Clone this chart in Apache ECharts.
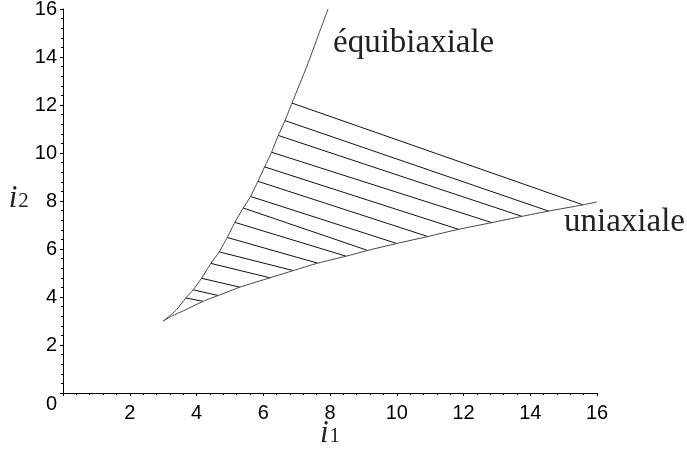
<!DOCTYPE html>
<html>
<head>
<meta charset="utf-8">
<script src="https://cdn.jsdelivr.net/npm/echarts@6/dist/echarts.min.js"></script>
<style>
  html, body { margin: 0; padding: 0; background: #fff; }
  #chart { width: 687px; height: 453px; }
</style>
</head>
<body>
<div id="chart"></div>
<script>
// equibiaxial boundary curve (i1, i2)
var equiX = [3.0, 3.15, 3.4, 3.68, 3.9, 4.15, 4.43, 4.68, 4.92, 5.15, 5.4, 5.62, 5.84, 6.04, 6.25, 6.45, 6.65, 6.86, 7.30, 7.67, 7.94];
var equiY = [3.0, 3.16, 3.47, 3.96, 4.3, 4.78, 5.4, 5.88, 6.48, 7.11, 7.71, 8.19, 8.82, 9.42, 10.03, 10.73, 11.35, 12.08, 13.59, 14.98, 16.0];

// uniaxial boundary curve (i1, i2)
var uniX = [3.0, 3.25, 3.6, 4.2, 4.65, 5.3, 6.2, 6.9, 7.63, 8.48, 9.13, 10.0, 10.93, 11.85, 12.85, 13.75, 14.55, 15.58, 16.0];
var uniY = [3.0, 3.2, 3.42, 3.82, 4.06, 4.41, 4.80, 5.10, 5.41, 5.70, 5.94, 6.23, 6.52, 6.82, 7.10, 7.36, 7.58, 7.84, 7.96];

// hatch segments, top to bottom: start on equibiaxial, end on uniaxial
var hatchStartX = [6.86, 6.65, 6.45, 6.25, 6.04, 5.84, 5.62, 5.40, 5.15, 4.92, 4.68, 4.43, 4.15, 3.90, 3.68];
var hatchStartY = [12.08, 11.35, 10.73, 10.03, 9.42, 8.82, 8.19, 7.71, 7.11, 6.48, 5.88, 5.40, 4.78, 4.30, 3.96];
var hatchEndX = [15.58, 14.55, 13.75, 12.85, 11.85, 10.93, 10.00, 9.13, 8.48, 7.63, 6.90, 6.20, 5.30, 4.65, 4.20];
var hatchEndY = [7.84, 7.58, 7.36, 7.10, 6.82, 6.52, 6.23, 5.94, 5.70, 5.41, 5.10, 4.80, 4.41, 4.06, 3.82];

var curveLabels = ['équibiaxiale', 'uniaxiale'];

function zip(xs, ys) {
    var out = [];
    for (var i = 0; i < xs.length; i++) {
        out.push([xs[i], ys[i]]);
    }
    return out;
}

var hatchData = [];
for (var i = 0; i < hatchStartX.length; i++) {
    hatchData.push({
        coords: [[hatchStartX[i], hatchStartY[i]], [hatchEndX[i], hatchEndY[i]]]
    });
}

var tickFont = {
    color: '#000',
    fontFamily: 'Liberation Sans',
    fontSize: 20
};
var nameRich = {
    i: {
        fontFamily: 'Liberation Serif',
        fontStyle: 'italic',
        fontSize: 31,
        color: '#222',
        padding: [0, 1, 5, 0]
    },
    s: {
        fontFamily: 'Liberation Serif',
        fontSize: 21,
        color: '#222'
    }
};

var chart = echarts.init(document.getElementById('chart'), null, {renderer: 'canvas'});

var option = {
    animation: false,
    grid: {
        left: 63,
        right: 90,
        top: 9,
        bottom: 60,
        containLabel: false,
        outerBoundsMode: 'none'
    },
    xAxis: {
        type: 'value',
        min: 0,
        max: 16,
        interval: 2,
        name: '{i|i}{s|1}',
        nameLocation: 'middle',
        nameGap: 25,
        nameMoveOverlap: false,
        nameTextStyle: {rich: nameRich},
        axisLine: {lineStyle: {color: '#000', width: 1}},
        axisTick: {length: 3, lineStyle: {color: '#000'}},
        minorTick: {show: true, splitNumber: 5, length: 2, lineStyle: {color: '#000'}},
        splitLine: {show: false},
        axisLabel: Object.assign({margin: 10, showMinLabel: false,
            formatter: function(v) { return v === 0 ? '' : String(v); }}, tickFont)
    },
    yAxis: {
        type: 'value',
        min: 0,
        max: 16,
        interval: 2,
        name: '{i|i}{s|2}',
        nameLocation: 'middle',
        nameRotate: 0,
        nameGap: 26,
        nameTextStyle: {rich: nameRich},
        axisLine: {show: true, lineStyle: {color: '#000', width: 1}},
        axisTick: {show: true, length: 3, lineStyle: {color: '#000'}},
        minorTick: {show: true, splitNumber: 5, length: 2, lineStyle: {color: '#000'}},
        splitLine: {show: false},
        axisLabel: Object.assign({
            margin: 6,
            formatter: function(v) { return v === 0 ? '{z|0}' : String(v); },
            rich: {z: {fontFamily: 'Liberation Sans', fontSize: 20, color: '#000', padding: [23, 0, 0, 0]}}
        }, tickFont)
    },
    graphic: [
        {
            type: 'text',
            left: 333,
            top: 27,
            style: {
                text: curveLabels[0],
                font: '33px "Liberation Serif"',
                fill: '#222'
            }
        },
        {
            type: 'text',
            left: 564,
            top: 206,
            style: {
                text: curveLabels[1],
                font: '33px "Liberation Serif"',
                fill: '#222'
            }
        }
    ],
    series: [
        {
            name: curveLabels[0],
            type: 'line',
            data: zip(equiX, equiY),
            showSymbol: false,
            smooth: 0.2,
            lineStyle: {color: '#444', width: 1}
        },
        {
            name: curveLabels[1],
            type: 'line',
            data: zip(uniX, uniY),
            showSymbol: false,
            smooth: 0.2,
            lineStyle: {color: '#444', width: 1}
        },
        {
            type: 'lines',
            coordinateSystem: 'cartesian2d',
            data: hatchData,
            lineStyle: {color: '#111', width: 1, opacity: 1}
        }
    ]
};

chart.setOption(option);
</script>
</body>
</html>
